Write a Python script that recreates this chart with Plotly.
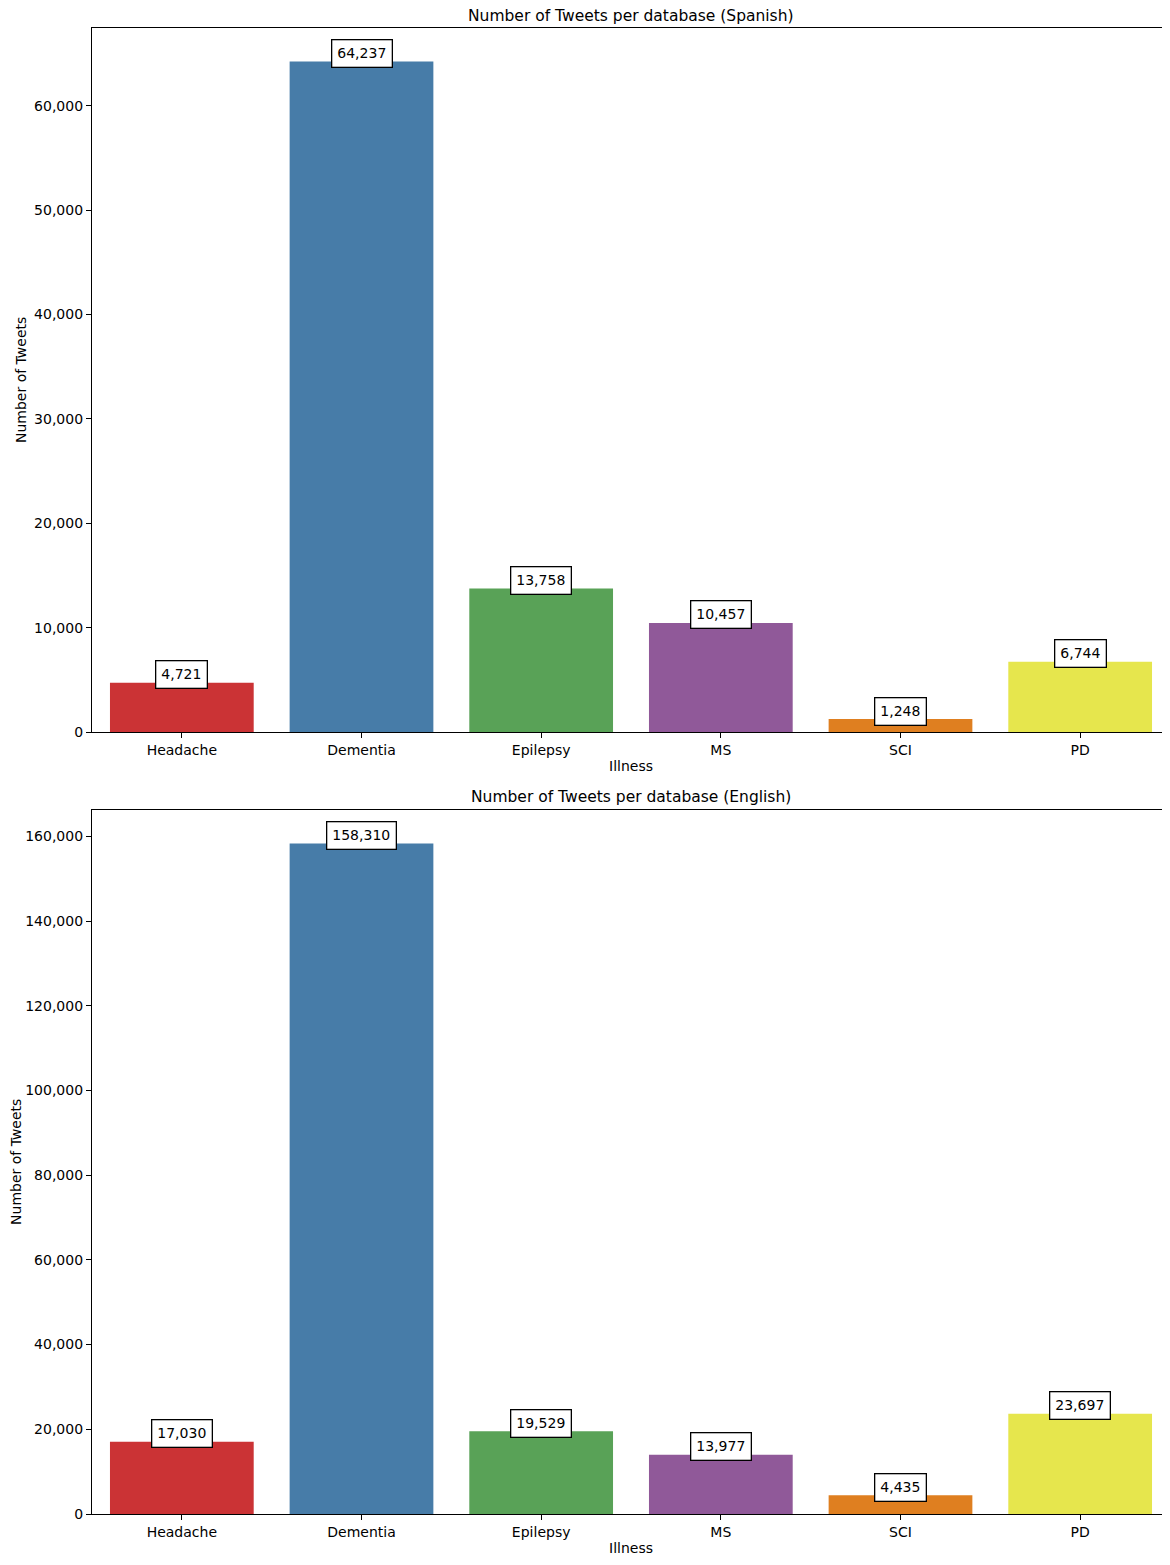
"""
Tweets per database, Spanish and English
"""

import plotly.graph_objects as go
from plotly.subplots import make_subplots

illnesses = ['Headache', 'Dementia', 'Epilepsy', 'MS', 'SCI', 'PD']
spanish_counts = [4721, 64237, 13758, 10457, 1248, 6744]
english_counts = [17030, 158310, 19529, 13977, 4435, 23697]
bar_colors = ['#cb3335', '#477ca8', '#59a257', '#905999', '#df7f20', '#e6e64d']
titles = ['Number of Tweets per database (Spanish)',
          'Number of Tweets per database (English)']

FONT = 'DejaVu Sans, Liberation Sans, sans-serif'
DOMAINS = [[0.5262, 1.0], [0.0, 0.4738]]

fig = make_subplots(rows=2, cols=1, vertical_spacing=0.05)

for row, counts in enumerate([spanish_counts, english_counts], start=1):
    fig.add_trace(go.Bar(
        x=illnesses,
        y=counts,
        marker=dict(color=bar_colors, line=dict(width=0)),
        width=0.8,
        showlegend=False
    ), row=row, col=1)
    # boxed value labels on top of each bar
    for name, value in zip(illnesses, counts):
        fig.add_annotation(
            x=name, y=value, text='{:,}'.format(value),
            xref='x' if row == 1 else 'x2',
            yref='y' if row == 1 else 'y2',
            showarrow=False, yshift=8,
            font=dict(family=FONT, size=14, color='black'),
            bgcolor='white', bordercolor='black', borderwidth=1.3, borderpad=5
        )
    fig.update_yaxes(
        range=[0, max(counts) * 1.05],
        tickformat=',d',
        domain=DOMAINS[row - 1],
        row=row, col=1
    )
    # subplot title and y title
    low, high = DOMAINS[row - 1]
    fig.add_annotation(text=titles[row - 1], xref='paper', yref='paper',
                       x=0.5, y=high, yanchor='bottom',
                       yshift=1 if row == 1 else 2, showarrow=False,
                       font=dict(family=FONT, size=15.5, color='black'))
    fig.add_annotation(text='Number of Tweets', xref='paper', yref='paper',
                       x=0, y=(low + high) / 2, textangle=-90,
                       xanchor='center', yanchor='middle',
                       xshift=-71 if row == 1 else -76, showarrow=False,
                       font=dict(family=FONT, size=14, color='black'))

axis_style = dict(
    showline=True, linecolor='black', linewidth=1.2, mirror=True,
    ticks='outside', ticklen=5, tickcolor='black',
    showgrid=False, zeroline=False, automargin=False,
    tickfont=dict(family=FONT, size=14, color='black'),
    title_font=dict(family=FONT, size=14, color='black')
)
fig.update_xaxes(**axis_style, range=[-0.5, 5.5], title_text='Illness',
                 title_standoff=4)
fig.update_yaxes(**axis_style)
fig.update_yaxes(dtick=10000, row=1, col=1)
fig.update_yaxes(dtick=20000, row=2, col=1)

fig.update_layout(
    width=1170, height=1565,
    margin=dict(l=84, r=8, t=20, b=59),
    plot_bgcolor='white', paper_bgcolor='white',
    bargap=0.2
)

fig.write_html('out.html')
